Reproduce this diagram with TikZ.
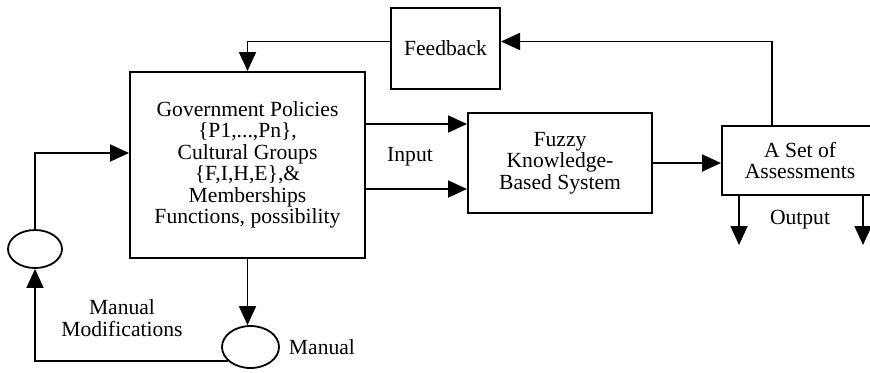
\documentclass[tikz,border=0pt]{standalone}
\usepackage{fontspec}
\setmainfont{Liberation Serif}
\usetikzlibrary{arrows.meta}
\usetikzlibrary{positioning}
\usetikzlibrary{shapes.geometric}

\tikzset{
	block/.style={draw, line width=1pt, align=center, inner sep=2pt},
	oval/.style={draw, ellipse, line width=0.9pt, inner sep=0pt},
	flow/.style={line width=0.9pt, -{Triangle[length=9.5pt,width=8.5pt]}}
}

\begin{document}
\begin{tikzpicture}[x=0.5pt, y=0.5pt, every node/.style={font=\fontsize{10.8}{10.75}\selectfont}]
		\clip (0,0) rectangle (870,372);
		\path
		(247.5,207) node[block, minimum width=117.5pt, minimum height=93pt] (gov) {Government Policies\\\{P1,...,Pn\},\\Cultural Groups\\\{F,I,H,E\},\&\\Memberships\\Functions, possibility}
		(445.5,323.5) node[block, minimum width=54.5pt, minimum height=40.5pt] (fb) {Feedback}
		(560,209) node[block, minimum width=92pt, minimum height=50pt] (fuzzy) {Fuzzy\\Knowledge-\\Based System}
		(800,211.5) node[block, minimum width=78pt, minimum height=34.5pt] (set) {A Set of\\Assessments}
		(35,123) node[oval, minimum width=27pt, minimum height=19pt] (lft) {}
		(250.5,25) node[oval, minimum width=28.5pt, minimum height=21pt] (man) {};

		% loop back through the feedback block
		\draw[flow] ([xshift=-14pt]set.north) |- ([yshift=3.5pt]fb.east);
		\draw[flow] ([yshift=3.5pt]fb.west) -| (gov.north);

		% input lines
		\draw[flow] ([yshift=20.5pt]gov.east) -- ([yshift=20.5pt]gov.east -| fuzzy.west);
		\draw[flow] ([yshift=-12pt]gov.east) -- ([yshift=-12pt]gov.east -| fuzzy.west);
		\path (410,215) node {Input};
		\draw[flow] (fuzzy.east) -- (fuzzy.east -| set.west);

		% outputs
		\draw[flow] ([xshift=-30.5pt]set.south) -- ++(0,-49);
		\draw[flow] ([xshift=31.5pt]set.south) -- ++(0,-49);
		\path (800,152) node {Output};

		% manual modifications
		\draw[flow] (lft.north) |- ([yshift=6pt]gov.west);
		\draw[flow] (gov.south) -- (gov.south |- man.north);
		\draw[flow] (man.212) -| (lft.south);
		\node[right=1pt of man] (mlab) {Manual};
		\path (122,54) node[align=center] (mod) {Manual\\Modifications};
	\end{tikzpicture}
\end{document}
